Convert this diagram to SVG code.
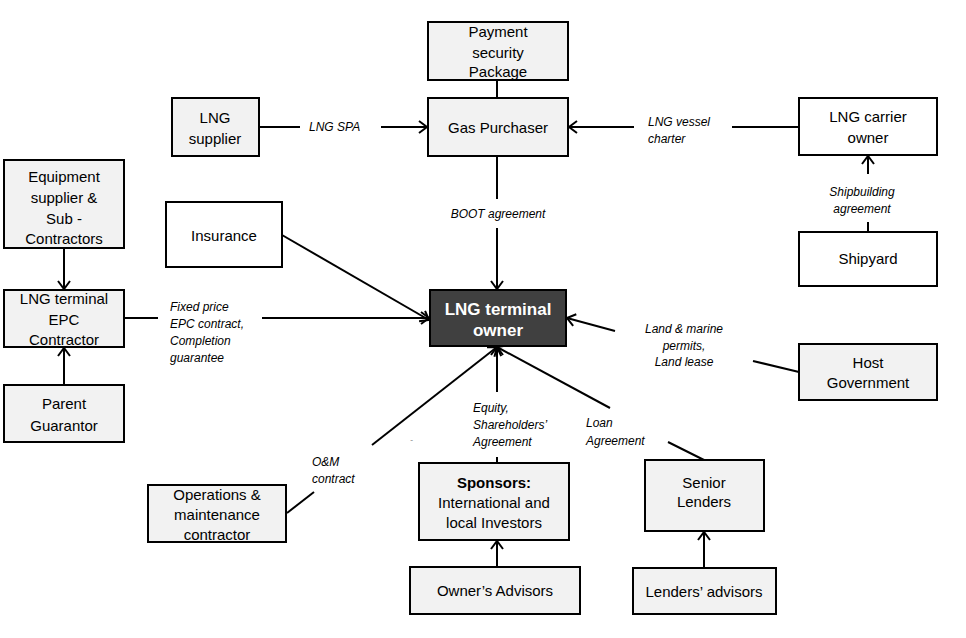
<svg xmlns="http://www.w3.org/2000/svg" width="966" height="638" viewBox="0 0 966 638">
<style>
.box{stroke:#000;stroke-width:2}
.g{fill:#f2f2f2}
.w{fill:#fff}
.t{font-family:"Liberation Sans",Arial,sans-serif;font-size:15px;fill:#000;text-anchor:middle}
.b{font-weight:bold}
.own{font-family:"Liberation Sans",Arial,sans-serif;font-size:17px;font-weight:bold;fill:#fff;text-anchor:middle}
.lab{font-family:"Liberation Sans",Arial,sans-serif;font-size:12px;font-style:italic;fill:#000}
.c{text-anchor:middle}
.ln{stroke:#000;stroke-width:2;fill:none}
.ar{marker-end:url(#arr)}
</style>
<defs>
<marker id="arr" markerUnits="userSpaceOnUse" markerWidth="12" markerHeight="14" refX="9" refY="7" orient="auto">
<path d="M1,1 L9,7 L1,13" fill="none" stroke="#000" stroke-width="2"/>
</marker>
</defs>
<rect width="966" height="638" fill="#fff"/>

<g id="connectors">
<line class="ln" x1="497" y1="80" x2="497" y2="98"/>
<line class="ln" x1="259" y1="127" x2="300" y2="127"/>
<line class="ln ar" x1="381" y1="127" x2="427" y2="127"/>
<line class="ln" x1="799" y1="127" x2="732" y2="127"/>
<line class="ln ar" x1="634" y1="127" x2="569" y2="127"/>
<line class="ln" x1="497" y1="156" x2="497" y2="199"/>
<line class="ln ar" x1="497" y1="228" x2="497" y2="289"/>
<line class="ln" x1="868" y1="232" x2="868" y2="222"/>
<line class="ln ar" x1="868" y1="174" x2="868" y2="156"/>
<line class="ln ar" x1="64" y1="248" x2="64" y2="289"/>
<line class="ln ar" x1="64" y1="385" x2="64" y2="348"/>
<line class="ln" x1="124" y1="318" x2="158" y2="318"/>
<line class="ln ar" x1="262" y1="318" x2="429" y2="318"/>
<line class="ln ar" x1="282" y1="235" x2="429" y2="320"/>
<line class="ln" x1="799" y1="372" x2="753" y2="361"/>
<line class="ln ar" x1="615" y1="331" x2="567" y2="318"/>
<line class="ln" x1="287" y1="513" x2="314" y2="492"/>
<line class="ln ar" x1="372" y1="445" x2="497" y2="347"/>
<line class="ln" x1="497" y1="463" x2="497" y2="457"/>
<line class="ln ar" x1="497" y1="392" x2="497" y2="347"/>
<line class="ln" x1="704" y1="460" x2="668" y2="442"/>
<line class="ln ar" x1="610" y1="408" x2="497" y2="347"/>
<line class="ln ar" x1="497" y1="567" x2="497" y2="541"/>
<line class="ln ar" x1="704" y1="568" x2="704" y2="532"/>
</g>

<g id="labels">
<text class="lab" x="309" y="131">LNG SPA</text>
<text class="lab" x="648" y="126">LNG vessel</text>
<text class="lab" x="648" y="143">charter</text>
<text class="lab c" x="498" y="218">BOOT agreement</text>
<text class="lab c" x="862" y="196">Shipbuilding</text>
<text class="lab c" x="862" y="213">agreement</text>
<text class="lab" x="170" y="311">Fixed price</text>
<text class="lab" x="170" y="328">EPC contract,</text>
<text class="lab" x="170" y="345">Completion</text>
<text class="lab" x="170" y="362">guarantee</text>
<text class="lab c" x="684" y="333">Land &amp; marine</text>
<text class="lab c" x="684" y="350">permits,</text>
<text class="lab c" x="684" y="366">Land lease</text>
<text class="lab" x="586" y="427">Loan</text>
<text class="lab" x="586" y="445">Agreement</text>
<text class="lab" x="473" y="412">Equity,</text>
<text class="lab" x="473" y="429">Shareholders’</text>
<text class="lab" x="473" y="446">Agreement</text>
<text class="lab" x="312" y="466">O&amp;M</text>
<text class="lab" x="312" y="483">contract</text>
<text class="lab" x="410" y="443" style="font-size:9px;fill:#666">-</text>
</g>

<g id="payment"><rect class="box g" x="428" y="22" width="140" height="58"/>
<text class="t" x="498" y="37">Payment</text><text class="t" x="498" y="58">security</text><text class="t" x="498" y="77">Package</text></g>
<g id="gas-purchaser"><rect class="box g" x="428" y="98" width="140" height="58"/>
<text class="t" x="498" y="133">Gas Purchaser</text></g>
<g id="lng-supplier"><rect class="box g" x="172" y="98" width="87" height="58"/>
<text class="t" x="215" y="123">LNG</text><text class="t" x="215" y="144">supplier</text></g>
<g id="carrier-owner"><rect class="box w" x="799" y="98" width="138" height="57"/>
<text class="t" x="868" y="122">LNG carrier</text><text class="t" x="868" y="143">owner</text></g>
<g id="shipyard"><rect class="box w" x="799" y="232" width="138" height="54"/>
<text class="t" x="868" y="264">Shipyard</text></g>
<g id="equipment"><rect class="box g" x="4" y="160" width="120" height="88"/>
<text class="t" x="64" y="182">Equipment</text><text class="t" x="64" y="203">supplier &amp;</text><text class="t" x="64" y="224">Sub -</text><text class="t" x="64" y="244">Contractors</text></g>
<g id="insurance"><rect class="box w" x="166" y="202" width="116" height="65"/>
<text class="t" x="224" y="241">Insurance</text></g>
<g id="epc"><rect class="box g" x="4" y="290" width="120" height="57"/>
<text class="t" x="64" y="304">LNG terminal</text><text class="t" x="64" y="325">EPC</text><text class="t" x="64" y="345">Contractor</text></g>
<g id="parent"><rect class="box g" x="4" y="385" width="120" height="57"/>
<text class="t" x="64" y="409">Parent</text><text class="t" x="64" y="431">Guarantor</text></g>
<g id="owner"><rect class="box" fill="#404040" x="430" y="290" width="136" height="56"/>
<text class="own" x="498" y="315">LNG terminal</text><text class="own" x="498" y="336">owner</text></g>
<g id="host"><rect class="box g" x="799" y="344" width="138" height="56"/>
<text class="t" x="868" y="368">Host</text><text class="t" x="868" y="388">Government</text></g>
<g id="om"><rect class="box g" x="148" y="485" width="138" height="57"/>
<text class="t" x="217" y="500">Operations &amp;</text><text class="t" x="217" y="520">maintenance</text><text class="t" x="217" y="540">contractor</text></g>
<g id="sponsors"><rect class="box g" x="419" y="463" width="150" height="77"/>
<text class="t b" x="494" y="488">Sponsors:</text><text class="t" x="494" y="508">International and</text><text class="t" x="494" y="528">local Investors</text></g>
<g id="owners-advisors"><rect class="box g" x="410" y="567" width="170" height="47"/>
<text class="t" x="495" y="596">Owner’s Advisors</text></g>
<g id="senior-lenders"><rect class="box g" x="645" y="460" width="119" height="71"/>
<text class="t" x="704" y="488">Senior</text><text class="t" x="704" y="507">Lenders</text></g>
<g id="lenders-advisors"><rect class="box g" x="633" y="568" width="143" height="46"/>
<text class="t" x="704" y="597">Lenders’ advisors</text></g>
</svg>
